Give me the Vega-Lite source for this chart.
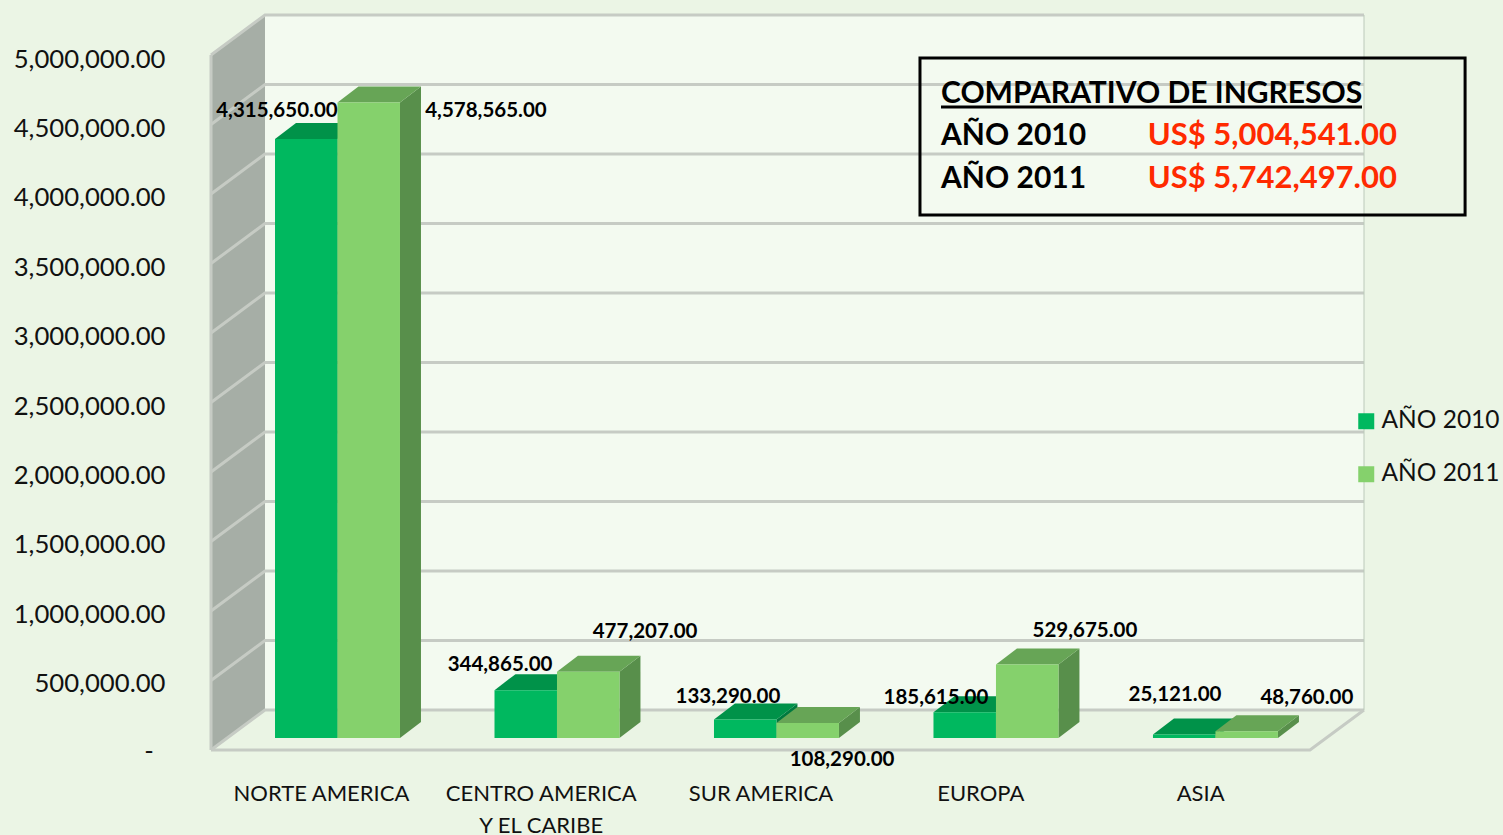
{"$schema":"https://vega.github.io/schema/vega-lite/v6.json","width":1153,"height":735,"autosize":"none","padding":{"left":211,"top":15,"right":139,"bottom":85},"background":"#ebf5e5","config":{"view":{"stroke":null},"font":"Lato","text":{"font":"Lato"},"axis":{"labelFont":"Lato"},"legend":{"labelFont":"Lato"}},
"resolve":{"axis":{"x":"independent","y":"independent"}},
"datasets":{"bars":[
{"region":"NORTE AMERICA","anio":"AÑO 2010","valor":4315650},{"region":"NORTE AMERICA","anio":"AÑO 2011","valor":4578565},
{"region":"CENTRO AMERICA Y EL CARIBE","anio":"AÑO 2010","valor":344865},{"region":"CENTRO AMERICA Y EL CARIBE","anio":"AÑO 2011","valor":477207},
{"region":"SUR AMERICA","anio":"AÑO 2010","valor":133290},{"region":"SUR AMERICA","anio":"AÑO 2011","valor":108290},
{"region":"EUROPA","anio":"AÑO 2010","valor":185615},{"region":"EUROPA","anio":"AÑO 2011","valor":529675},
{"region":"ASIA","anio":"AÑO 2010","valor":25121},{"region":"ASIA","anio":"AÑO 2011","valor":48760}],
"ticks":[{"tick":0},{"tick":500000},{"tick":1000000},{"tick":1500000},{"tick":2000000},{"tick":2500000},{"tick":3000000},{"tick":3500000},{"tick":4000000},{"tick":4500000},{"tick":5000000}],
"two":[{"p":0},{"p":1}],"three":[{"p":0},{"p":1},{"p":2}],"one":[{"p":0}]},
"layer":[
{"data":{"name":"one"},"mark":{"type":"rect","color":"#f3faf0"},"encoding":{
 "x":{"datum":0.2457,"type":"quantitative","scale":{"domain":[0,5.2457],"nice":false,"zero":false},"axis":{"values":[0.5,1.5,2.5,3.5,4.5],"title":null,"grid":false,"ticks":false,"domain":false,"labelFontSize":22,"labelColor":"#111111","labelPadding":43,"labelLineHeight":32,"labelLimit":300,"labelBaseline":"middle","labelAngle":0,"labelFlush":false,"labelOverlap":false,"labelExpr":"[['NORTE AMERICA'],['CENTRO AMERICA','Y EL CARIBE'],['SUR AMERICA'],['EUROPA'],['ASIA']][floor(datum.value)]"}},
 "x2":{"datum":5.2457},
 "y":{"datum":201729,"type":"quantitative","scale":{"domain":[-86455,5208934],"nice":false,"zero":false},"axis":{"values":[500000,1000000,1500000,2000000,2500000,3000000,3500000,4000000,4500000,5000000],"title":null,"grid":false,"ticks":false,"domain":false,"labelFontSize":25.7,"labelColor":"#111111","labelPadding":46,"labelOffset":15,"labelOverlap":false,"labelFlush":false,"labelLimit":300,"format":",.2f"}},
 "y2":{"datum":5208934}}},
{"data":{"name":"one"},"mark":{"type":"text","text":"-","fontSize":25.7,"color":"#111111","align":"center","baseline":"middle"},"encoding":{
 "x":{"datum":-0.282,"type":"quantitative","scale":{"domain":[0,5.2457],"nice":false,"zero":false},"axis":null},
 "y":{"datum":-101000,"type":"quantitative","scale":{"domain":[-86455,5208934],"nice":false,"zero":false},"axis":null}}},
{"data":{"name":"two"},"transform":[{"calculate":"datum.p*0.2457","as":"xw"},{"calculate":"datum.p?5208934:4920545","as":"yt"},{"calculate":"datum.p?201729:-86455","as":"yb"}],"mark":{"type":"area","color":"#a6aea6","orient":"vertical"},"encoding":{
 "x":{"field":"xw","type":"quantitative","scale":{"domain":[0,5.2457],"nice":false,"zero":false},"axis":null},
 "y":{"field":"yt","type":"quantitative","stack":null,"scale":{"domain":[-86455,5208934],"nice":false,"zero":false},"axis":null},"y2":{"field":"yb"}}},
{"data":{"name":"two"},"transform":[{"calculate":"-86455+datum.p*288184","as":"yf"},{"calculate":"datum.p*0.2457","as":"xa"},{"calculate":"5+datum.p*0.2457","as":"xb"}],"mark":{"type":"area","color":"#eaf4e4","orient":"horizontal"},"encoding":{
 "y":{"field":"yf","type":"quantitative","scale":{"domain":[-86455,5208934],"nice":false,"zero":false},"axis":null},
 "x":{"field":"xa","type":"quantitative","stack":null,"scale":{"domain":[0,5.2457],"nice":false,"zero":false},"axis":null},"x2":{"field":"xb"}}},
{"data":{"name":"ticks"},"transform":[{"calculate":"[0,1,2]","as":"p"},{"flatten":["p"]},{"calculate":"[0,0.2457,5.2457][datum.p]","as":"xg"},{"calculate":"datum.p==0?datum.tick*1.0014-86455:datum.tick*1.0014+201729","as":"yg"}],"mark":{"type":"line","color":"#c6cbc4","strokeWidth":3},"encoding":{
 "x":{"field":"xg","type":"quantitative","scale":{"domain":[0,5.2457],"nice":false,"zero":false},"axis":null},
 "y":{"field":"yg","type":"quantitative","scale":{"domain":[-86455,5208934],"nice":false,"zero":false},"axis":null},
 "detail":{"field":"tick"},"order":{"field":"p"}}},
{"data":{"name":"three"},"transform":[{"calculate":"[0,5,5.2457][datum.p]","as":"xe"},{"calculate":"[-86455,-86455,201729][datum.p]","as":"ye"}],"mark":{"type":"line","color":"#c6cbc4","strokeWidth":3},"encoding":{
 "x":{"field":"xe","type":"quantitative","scale":{"domain":[0,5.2457],"nice":false,"zero":false},"axis":null},
 "y":{"field":"ye","type":"quantitative","scale":{"domain":[-86455,5208934],"nice":false,"zero":false},"axis":null},"order":{"field":"p"}}},
{"data":{"name":"one"},"mark":{"type":"rule","color":"#c6cbc4","strokeWidth":3},"encoding":{
 "x":{"datum":0,"type":"quantitative","scale":{"domain":[0,5.2457],"nice":false,"zero":false},"axis":null},
 "y":{"datum":-86455,"type":"quantitative","scale":{"domain":[-86455,5208934],"nice":false,"zero":false},"axis":null},"y2":{"datum":4920545}}},
{"data":{"name":"one"},"mark":{"type":"rule","color":"#bccabb","strokeWidth":1},"encoding":{
 "x":{"datum":5.2457,"type":"quantitative","scale":{"domain":[0,5.2457],"nice":false,"zero":false},"axis":null},
 "y":{"datum":201729,"type":"quantitative","scale":{"domain":[-86455,5208934],"nice":false,"zero":false},"axis":null},"y2":{"datum":5208934}}},
{"data":{"name":"bars"},"transform":[
 {"calculate":"indexof(['NORTE AMERICA','CENTRO AMERICA Y EL CARIBE','SUR AMERICA','EUROPA','ASIA'],datum.region)","as":"i"},
 {"calculate":"datum.anio=='AÑO 2010'?0:1","as":"s"},
 {"calculate":"0.2912+datum.i*0.9986+datum.s*0.2843","as":"x0"},
 {"calculate":"datum.x0+0.2843","as":"x1"},
 {"calculate":"[0,1]","as":"p"},{"flatten":["p"]},
 {"calculate":"datum.valor+datum.p*115274","as":"yt"},
 {"calculate":"datum.p*115274","as":"yb"},
 {"calculate":"datum.x0+datum.p*0.0955","as":"xa"},
 {"calculate":"datum.x1+datum.p*0.0955","as":"xb"},
 {"calculate":"datum.region+datum.anio","as":"key"}],
"layer":[
 {"transform":[{"filter":"datum.s==0"}],"mark":{"type":"area","color":"#00793f","orient":"vertical"},"encoding":{"x":{"field":"xb","type":"quantitative","scale":{"domain":[0,5.2457],"nice":false,"zero":false},"axis":null},"y":{"field":"yt","type":"quantitative","stack":null,"scale":{"domain":[-86455,5208934],"nice":false,"zero":false},"axis":null},"y2":{"field":"yb"},"detail":{"field":"key"}}},
 {"transform":[{"filter":"datum.s==0"}],"mark":{"type":"area","color":"#009249","orient":"horizontal"},"encoding":{"y":{"field":"yt","type":"quantitative","scale":{"domain":[-86455,5208934],"nice":false,"zero":false},"axis":null},"x":{"field":"xa","type":"quantitative","stack":null,"scale":{"domain":[0,5.2457],"nice":false,"zero":false},"axis":null},"x2":{"field":"xb"},"detail":{"field":"key"}}},
 {"transform":[{"filter":"datum.s==0 && datum.p==0"}],"mark":{"type":"rect"},"encoding":{"x":{"field":"x0","type":"quantitative","scale":{"domain":[0,5.2457],"nice":false,"zero":false},"axis":null},"x2":{"field":"x1"},"y":{"field":"valor","type":"quantitative","scale":{"domain":[-86455,5208934],"nice":false,"zero":false},"axis":null},"y2":{"datum":0},
  "color":{"field":"anio","type":"nominal","scale":{"domain":["AÑO 2010","AÑO 2011"],"range":["#00b85f","#85d16c"]},"legend":{"title":null,"orient":"none","legendX":1143,"legendY":394,"symbolType":"square","symbolSize":256,"symbolStrokeWidth":0,"labelFontSize":24.5,"labelColor":"#111111","rowPadding":28,"labelOffset":3,"symbolOpacity":1}}}},
 {"transform":[{"filter":"datum.s==1"}],"mark":{"type":"area","color":"#588f4b","orient":"vertical"},"encoding":{"x":{"field":"xb","type":"quantitative","scale":{"domain":[0,5.2457],"nice":false,"zero":false},"axis":null},"y":{"field":"yt","type":"quantitative","stack":null,"scale":{"domain":[-86455,5208934],"nice":false,"zero":false},"axis":null},"y2":{"field":"yb"},"detail":{"field":"key"}}},
 {"transform":[{"filter":"datum.s==1"}],"mark":{"type":"area","color":"#67a556","orient":"horizontal"},"encoding":{"y":{"field":"yt","type":"quantitative","scale":{"domain":[-86455,5208934],"nice":false,"zero":false},"axis":null},"x":{"field":"xa","type":"quantitative","stack":null,"scale":{"domain":[0,5.2457],"nice":false,"zero":false},"axis":null},"x2":{"field":"xb"},"detail":{"field":"key"}}},
 {"transform":[{"filter":"datum.s==1 && datum.p==0"}],"mark":{"type":"rect"},"encoding":{"x":{"field":"x0","type":"quantitative","scale":{"domain":[0,5.2457],"nice":false,"zero":false},"axis":null},"x2":{"field":"x1"},"y":{"field":"valor","type":"quantitative","scale":{"domain":[-86455,5208934],"nice":false,"zero":false},"axis":null},"y2":{"datum":0},
  "color":{"field":"anio","type":"nominal","scale":{"domain":["AÑO 2010","AÑO 2011"],"range":["#00b85f","#85d16c"]}}}},
 {"transform":[{"filter":"datum.p==0"},
   {"calculate":"[0.300,1.251,1.315,1.975,2.352,2.871,3.298,3.976,4.386,4.986][datum.i*2+datum.s]","as":"lx"},
   {"calculate":"[4517000,4517000,525900,763700,295400,-158500,288200,770900,309800,288200][datum.i*2+datum.s]","as":"ly"}],
  "mark":{"type":"text","fontWeight":"bold","fontSize":20.5,"color":"#000000","align":"center","baseline":"middle"},"encoding":{"x":{"field":"lx","type":"quantitative","scale":{"domain":[0,5.2457],"nice":false,"zero":false},"axis":null},"y":{"field":"ly","type":"quantitative","scale":{"domain":[-86455,5208934],"nice":false,"zero":false},"axis":null},"text":{"field":"valor","type":"quantitative","format":",.2f"}}}
]},
{"data":{"name":"one"},"mark":{"type":"rect","fillOpacity":0,"stroke":"#000000","strokeWidth":3},"encoding":{
 "x":{"datum":3.2256,"type":"quantitative","scale":{"domain":[0,5.2457],"nice":false,"zero":false},"axis":null},"x2":{"datum":5.7056},
 "y":{"datum":4899135,"type":"quantitative","scale":{"domain":[-86455,5208934],"nice":false,"zero":false},"axis":null},"y2":{"datum":3767954}}},
{"data":{"name":"one"},"mark":{"type":"rule","color":"#000000","strokeWidth":3},"encoding":{
 "x":{"datum":3.3212,"type":"quantitative","scale":{"domain":[0,5.2457],"nice":false,"zero":false},"axis":null},"x2":{"datum":5.2366},
 "y":{"datum":4546000,"type":"quantitative","scale":{"domain":[-86455,5208934],"nice":false,"zero":false},"axis":null}}},
{"data":{"values":[{"t":"COMPARATIVO DE INGRESOS","c":"#000000","col":0,"row":0},{"t":"AÑO 2010","c":"#000000","col":0,"row":1},{"t":"AÑO 2011","c":"#000000","col":0,"row":2},{"t":"US$ 5,004,541.00","c":"#ff2a00","col":1,"row":1},{"t":"US$ 5,742,497.00","c":"#ff2a00","col":1,"row":2}]},
 "transform":[{"calculate":"datum.col?4.2616:3.3212","as":"lx"},{"calculate":"[4640000,4339000,4029000][datum.row]","as":"ly"}],
 "mark":{"type":"text","fontWeight":"bold","align":"left","baseline":"middle"},"encoding":{
 "x":{"field":"lx","type":"quantitative","scale":{"domain":[0,5.2457],"nice":false,"zero":false},"axis":null},
 "y":{"field":"ly","type":"quantitative","scale":{"domain":[-86455,5208934],"nice":false,"zero":false},"axis":null},
 "size":{"condition":{"test":"datum.col==1","value":31},"value":30},
 "text":{"field":"t"},"color":{"field":"c","type":"nominal","scale":null}}}
]}
